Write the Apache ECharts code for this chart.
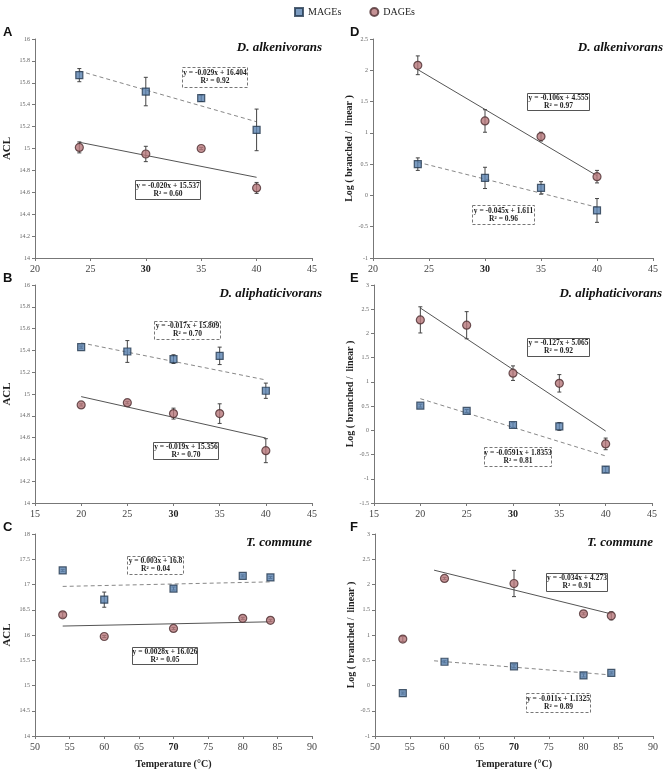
<!DOCTYPE html>
<html>
<head>
<meta charset="utf-8">
<script src="https://cdn.jsdelivr.net/npm/echarts@6/dist/echarts.min.js"></script>
<style>
  html, body { margin: 0; padding: 0; background: #fff; }
  #chart { width: 666px; height: 773px; }
</style>
</head>
<body>
<div id="chart"></div>
<script>
// --- data ---
const tempA = [24, 30, 35, 40];
const mageA = [15.67, 15.52, 15.46, 15.17];
const mageErrA = [0.06, 0.13, 0.03, 0.19];
const dageA = [15.01, 14.95, 15.0, 14.64];
const dageErrA = [0.05, 0.07, 0.01, 0.05];
const mageFitA = [-0.029, 16.404];
const dageFitA = [-0.020, 15.537];

const tempD = [24, 30, 35, 40];
const mageD = [0.50, 0.28, 0.12, -0.24];
const mageErrD = [0.10, 0.17, 0.10, 0.19];
const dageD = [2.08, 1.19, 0.94, 0.30];
const dageErrD = [0.15, 0.18, 0.07, 0.10];
const mageFitD = [-0.045, 1.611];
const dageFitD = [-0.106, 4.555];

const tempB = [20, 25, 30, 35, 40];
const mageB = [15.43, 15.39, 15.32, 15.35, 15.03];
const mageErrB = [0.01, 0.10, 0.04, 0.08, 0.07];
const dageB = [14.90, 14.92, 14.82, 14.82, 14.48];
const dageErrB = [0.01, 0.01, 0.05, 0.09, 0.11];
const mageFitB = [-0.017, 15.809];
const dageFitB = [-0.019, 15.356];

const tempE = [20, 25, 30, 35, 40];
const mageE = [0.51, 0.40, 0.11, 0.08, -0.81];
const mageErrE = [0.03, 0.03, 0.05, 0.08, 0.06];
const dageE = [2.28, 2.17, 1.18, 0.97, -0.28];
const dageErrE = [0.27, 0.28, 0.15, 0.18, 0.12];
const mageFitE = [-0.0591, 1.8353];
const dageFitE = [-0.127, 5.065];

const tempC = [54, 60, 70, 80, 84];
const mageC = [17.28, 16.70, 16.92, 17.17, 17.14];
const mageErrC = [0.02, 0.15, 0.03, 0.02, 0.02];
const dageC = [16.40, 15.97, 16.13, 16.33, 16.29];
const dageErrC = [0.05, 0.02, 0.02, 0.02, 0.02];
const mageFitC = [0.003, 16.8];
const dageFitC = [0.0028, 16.026];

const tempF = [54, 60, 70, 80, 84];
const mageF = [-0.15, 0.47, 0.38, 0.20, 0.25];
const mageErrF = [0.02, 0.02, 0.03, 0.03, 0.02];
const dageF = [0.92, 2.12, 2.02, 1.42, 1.38];
const dageErrF = [0.05, 0.02, 0.26, 0.02, 0.08];
const mageFitF = [-0.011, 1.1325];
const dageFitF = [-0.034, 4.273];

const eqText = {
  A: ['y = -0.029x + 16.404\nR² = 0.92', 'y = -0.020x + 15.537\nR² = 0.60'],
  D: ['y = -0.045x + 1.611\nR² = 0.96', 'y = -0.106x + 4.555\nR² = 0.97'],
  B: ['y = -0.017x + 15.809\nR² = 0.70', 'y = -0.019x + 15.356\nR² = 0.70'],
  E: ['y = -0.0591x + 1.8353\nR² = 0.81', 'y = -0.127x + 5.065\nR² = 0.92'],
  C: ['y = 0.003x + 16.8\nR² = 0.04', 'y = 0.0028x + 16.026\nR² = 0.05'],
  F: ['y = -0.011x + 1.1325\nR² = 0.89', 'y = -0.034x + 4.273\nR² = 0.91']
};

const SERIF = '"Liberation Serif", "DejaVu Serif", serif';

const panels = [
  { key: 'A', species: 'D. alkenivorans', grid: [35, 39, 277, 219], x: [20, 45], y: [14, 16, 0.2], yName: 'ACL', bold: 30,
    temp: tempA, mage: mageA, mageErr: mageErrA, dage: dageA, dageErr: dageErrA, mageFit: mageFitA, dageFit: dageFitA, fitX: [24, 40],
    boxes: [[182, 67, 65, 20], [135, 180, 65, 19]] },
  { key: 'D', species: 'D. alkenivorans', grid: [373, 39, 280, 219], x: [20, 45], y: [-1, 2.5, 0.5], yName: 'Log ( branched /  linear )', bold: 30,
    temp: tempD, mage: mageD, mageErr: mageErrD, dage: dageD, dageErr: dageErrD, mageFit: mageFitD, dageFit: dageFitD, fitX: [24, 40],
    boxes: [[472, 205, 62, 19], [527, 93, 62, 17]] },
  { key: 'B', species: 'D. aliphaticivorans', grid: [35, 285, 277, 218], x: [15, 45], y: [14, 16, 0.2], yName: 'ACL', bold: 30,
    temp: tempB, mage: mageB, mageErr: mageErrB, dage: dageB, dageErr: dageErrB, mageFit: mageFitB, dageFit: dageFitB, fitX: [20, 40],
    boxes: [[154, 321, 66, 18], [153, 442, 65, 17]] },
  { key: 'E', species: 'D. aliphaticivorans', grid: [374, 285, 278, 218], x: [15, 45], y: [-1.5, 3, 0.5], yName: 'Log ( branched /  linear )', bold: 30,
    temp: tempE, mage: mageE, mageErr: mageErrE, dage: dageE, dageErr: dageErrE, mageFit: mageFitE, dageFit: dageFitE, fitX: [20, 40],
    boxes: [[484, 447, 67, 19], [527, 338, 62, 18]] },
  { key: 'C', species: 'T. commune', grid: [35, 534, 277, 202], x: [50, 90], y: [14, 18, 0.5], yName: 'ACL', bold: 70, xName: 'Temperature (°C)',
    temp: tempC, mage: mageC, mageErr: mageErrC, dage: dageC, dageErr: dageErrC, mageFit: mageFitC, dageFit: dageFitC, fitX: [54, 84],
    boxes: [[127, 556, 56, 18], [132, 647, 65, 17]] },
  { key: 'F', species: 'T. commune', grid: [375, 534, 278, 202], x: [50, 90], y: [-1, 3, 0.5], yName: 'Log ( branched /  linear )', bold: 70, xName: 'Temperature (°C)',
    temp: tempF, mage: mageF, mageErr: mageErrF, dage: dageF, dageErr: dageErrF, mageFit: mageFitF, dageFit: dageFitF, fitX: [58.5, 84],
    boxes: [[526, 693, 64, 19], [546, 573, 61, 18]] }
];

const mageStyle = { color: '#5a82b0', borderColor: '#24384f', borderWidth: 1.2 };
const dageStyle = { color: '#b7777b', borderColor: '#4e3032', borderWidth: 1.2 };

const errorBars = (params, api) => {
  const x = api.value(0);
  const lo = api.coord([x, api.value(1)]);
  const hi = api.coord([x, api.value(2)]);
  const st = { stroke: '#444', lineWidth: 1 };
  return {
    type: 'group',
    children: [
      { type: 'line', shape: { x1: lo[0], y1: lo[1], x2: hi[0], y2: hi[1] }, style: st },
      { type: 'line', shape: { x1: lo[0] - 2, y1: lo[1], x2: lo[0] + 2, y2: lo[1] }, style: st },
      { type: 'line', shape: { x1: hi[0] - 2, y1: hi[1], x2: hi[0] + 2, y2: hi[1] }, style: st }
    ]
  };
};

const grids = [], xAxes = [], yAxes = [], series = [], graphics = [];

panels.forEach((p, i) => {
  grids.push({ left: p.grid[0], top: p.grid[1], width: p.grid[2], height: p.grid[3] });
  xAxes.push({
    gridIndex: i, type: 'value', min: p.x[0], max: p.x[1], interval: 5,
    name: p.xName || '', nameLocation: 'middle', nameGap: 23,
    nameTextStyle: { fontFamily: SERIF, fontWeight: 'bold', fontSize: 10, color: '#222' },
    axisLine: { show: true, onZero: false, lineStyle: { color: '#777' } },
    axisTick: { show: true, length: 3, lineStyle: { color: '#777' } },
    splitLine: { show: false },
    axisLabel: {
      fontFamily: SERIF, fontSize: 10, color: '#444', margin: 6,
      formatter: v => (v === p.bold ? '{b|' + v + '}' : String(v)),
      rich: { b: { fontFamily: SERIF, fontSize: 10, fontWeight: 'bold', color: '#222' } }
    }
  });
  yAxes.push({
    gridIndex: i, type: 'value', min: p.y[0], max: p.y[1], interval: p.y[2],
    name: p.yName, nameLocation: 'middle', nameGap: p.yName === 'ACL' ? 22 : 19,
    nameTextStyle: { fontFamily: SERIF, fontWeight: 'bold', fontSize: p.yName === 'ACL' ? 11 : 10, color: '#222' },
    axisLine: { show: true, onZero: false, lineStyle: { color: '#777' } },
    axisTick: { show: true, length: 3, lineStyle: { color: '#777' } },
    splitLine: { show: false },
    axisLabel: { fontFamily: SERIF, fontSize: 6, color: '#666', margin: 5,
      formatter: v => String(Math.round(v * 10) / 10) }
  });

  const fitLine = f => p.fitX.map(x => [x, f[0] * x + f[1]]);
  series.push(
    { type: 'line', xAxisIndex: i, yAxisIndex: i, data: fitLine(p.mageFit), showSymbol: false, silent: true,
      lineStyle: { color: '#888', width: 1, type: [4, 3] }, z: 1 },
    { type: 'line', xAxisIndex: i, yAxisIndex: i, data: fitLine(p.dageFit), showSymbol: false, silent: true,
      lineStyle: { color: '#555', width: 1 }, z: 1 },
    { type: 'custom', xAxisIndex: i, yAxisIndex: i, renderItem: errorBars, z: 2,
      data: p.temp.map((t, k) => [t, p.mage[k] - p.mageErr[k], p.mage[k] + p.mageErr[k]]) },
    { type: 'custom', xAxisIndex: i, yAxisIndex: i, renderItem: errorBars, z: 2,
      data: p.temp.map((t, k) => [t, p.dage[k] - p.dageErr[k], p.dage[k] + p.dageErr[k]]) },
    { name: 'MAGEs', type: 'scatter', xAxisIndex: i, yAxisIndex: i, symbol: 'rect', symbolSize: 7, z: 3,
      itemStyle: mageStyle, data: p.temp.map((t, k) => [t, p.mage[k]]) },
    { name: 'DAGEs', type: 'scatter', xAxisIndex: i, yAxisIndex: i, symbol: 'circle', symbolSize: 8, z: 3,
      itemStyle: dageStyle, data: p.temp.map((t, k) => [t, p.dage[k]]) }
  );

  // panel letter
  graphics.push({ type: 'text', left: p.grid[0] < 100 ? 3 : 350, top: p.grid[1] - 13,
    style: { text: p.key, font: 'bold 13px "Liberation Sans", Arial, sans-serif', fill: '#111' } });
  // species name, right aligned
  graphics.push({ type: 'text', right: 666 - (p.grid[0] + p.grid[2] + (p.key === 'C' || p.key === 'F' ? 0 : 10)), top: p.grid[1] + 2,
    style: { text: p.species, font: 'italic bold 13px ' + SERIF, fill: '#111' } });
  // equation boxes: [0] MAGE dashed, [1] DAGE solid
  p.boxes.forEach((b, j) => {
    graphics.push({
      type: 'group', left: b[0], top: b[1],
      children: [
        { type: 'rect', shape: { x: 0, y: 0, width: b[2], height: b[3] },
          style: { fill: '#fff', stroke: j === 0 ? '#777' : '#555', lineWidth: 1, lineDash: j === 0 ? [3, 2] : null } },
        { type: 'text', x: b[2] / 2, y: b[3] / 2,
          style: { text: eqText[p.key][j], font: 'bold 7.5px ' + SERIF, fill: '#222', align: 'center', verticalAlign: 'middle', lineHeight: 8 } }
      ]
    });
  });
});

const chart = echarts.init(document.getElementById('chart'));
chart.setOption({
  animation: false,
  backgroundColor: '#fff',
  legend: {
    top: 2, left: 289, itemWidth: 8, itemHeight: 8, itemGap: 28,
    textStyle: { fontFamily: SERIF, fontSize: 10, color: '#222' },
    data: [{ name: 'MAGEs', icon: 'rect' }, { name: 'DAGEs', icon: 'circle' }]
  },
  grid: grids,
  xAxis: xAxes,
  yAxis: yAxes,
  series: series,
  graphic: graphics
});
</script>
</body>
</html>
